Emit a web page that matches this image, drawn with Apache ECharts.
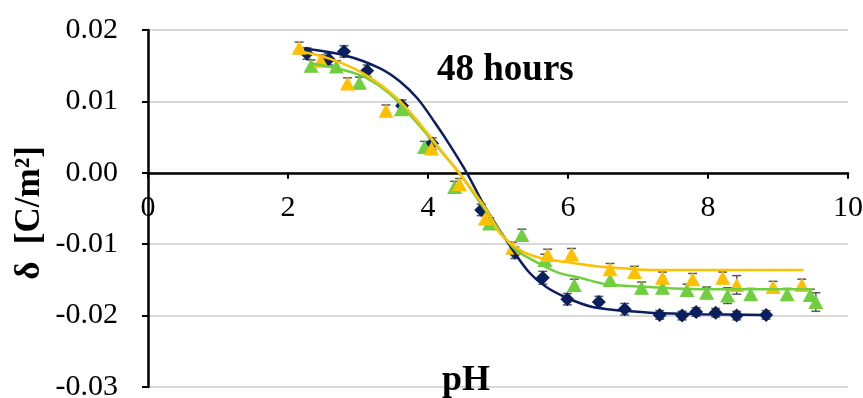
<!DOCTYPE html>
<html>
<head>
<meta charset="utf-8">
<script src="https://cdn.jsdelivr.net/npm/echarts@6/dist/echarts.min.js"></script>
<style>
  html, body { margin: 0; padding: 0; background: #fff; }
  #chart { width: 863px; height: 398px; }
</style>
</head>
<body>
<div id="chart"></div>
<script>
// measured points
var bluePH = [2.27, 2.58, 2.80, 3.13, 3.63, 4.06, 4.76, 5.24, 5.64, 5.99, 6.44, 6.81, 7.31, 7.63, 7.83, 8.11, 8.41, 8.83];
var blueD = [0.0167, 0.0159, 0.0170, 0.0143, 0.0094, 0.0041, -0.0052, -0.0112, -0.0147, -0.0177, -0.0181, -0.0191, -0.0199, -0.0200, -0.0195, -0.0196, -0.0200, -0.0199];
var blueErr = [0.0008, 0.0008, 0.0008, 0.0008, 0.0008, 0.0008, 0.0008, 0.0008, 0.0009, 0.0008, 0.0008, 0.0008, 0.0006, 0.0006, 0.0006, 0.0006, 0.0006, 0.0006];

var greenPH = [2.33, 2.69, 3.02, 3.62, 3.95, 4.38, 4.88, 5.34, 5.67, 6.09, 6.60, 7.05, 7.35, 7.70, 7.98, 8.28, 8.61, 9.13, 9.46, 9.54];
var greenD = [0.0150, 0.0149, 0.0126, 0.0089, 0.0036, -0.0020, -0.0071, -0.0087, -0.0122, -0.0157, -0.0150, -0.0161, -0.0161, -0.0164, -0.0168, -0.0172, -0.0170, -0.0170, -0.0171, -0.0181];
var greenErr = [0.0008, 0.0008, 0.0008, 0.0008, 0.0008, 0.0008, 0.0008, 0.0008, 0.0008, 0.0008, 0.0008, 0.0008, 0.0008, 0.0008, 0.0008, 0.0011, 0.0008, 0.0008, 0.0008, 0.0013];

var yellowPH = [2.16, 2.47, 2.85, 3.40, 4.05, 4.45, 4.82, 5.21, 5.71, 6.05, 6.60, 6.95, 7.35, 7.78, 8.21, 8.41, 8.93, 9.34];
var yellowD = [0.0175, 0.0157, 0.0125, 0.0087, 0.0034, -0.0016, -0.0064, -0.0105, -0.0115, -0.0114, -0.0135, -0.0139, -0.0147, -0.0149, -0.0147, -0.0157, -0.0160, -0.0157];
var yellowErr = [0.0008, 0.0008, 0.0008, 0.0008, 0.0008, 0.0008, 0.0008, 0.0008, 0.0008, 0.0008, 0.0008, 0.0008, 0.0008, 0.0008, 0.0008, 0.0013, 0.0008, 0.0008];

// fitted curves
var blueFitPH = [2.23, 2.83, 3.30, 3.60, 3.85, 4.10, 4.33, 4.56, 4.84, 5.21, 5.45, 5.69, 5.98, 6.35, 6.78, 7.17, 7.88, 8.83];
var blueFit = [0.0174, 0.0164, 0.0147, 0.0128, 0.0104, 0.0070, 0.0036, -0.0001, -0.0052, -0.0108, -0.0140, -0.0160, -0.0175, -0.0188, -0.0193, -0.0196, -0.0198, -0.0199];
var greenFitPH = [2.35, 2.83, 3.12, 3.45, 3.78, 4.12, 4.45, 4.84, 5.21, 5.49, 5.84, 6.17, 6.55, 7.17, 7.88, 9.49];
var greenFit = [0.0153, 0.0143, 0.0133, 0.0111, 0.0077, 0.0038, -0.0001, -0.0055, -0.0104, -0.0122, -0.0139, -0.0147, -0.0156, -0.0160, -0.0163, -0.0163];
var yellowFitPH = [2.13, 2.59, 3.06, 3.55, 3.92, 4.26, 4.45, 4.84, 5.02, 5.31, 5.59, 5.98, 6.41, 6.84, 7.17, 9.36];
var yellowFit = [0.0171, 0.0160, 0.0140, 0.0105, 0.0064, 0.0022, -0.0001, -0.0052, -0.0084, -0.0108, -0.0119, -0.0125, -0.0131, -0.0134, -0.0136, -0.0136];

var NAVY = '#0b1f5e';
var GREEN = '#6fcf3f';
var YELLOW = '#ffc000';
var SERIF = 'Liberation Serif';

// plot box: y runs 0.02 at top=30 to -0.03 at bottom=387
var TOP = 30, BOTTOM_PX = 387, YMAX = 0.02, YMIN = -0.03;
var zeroPx = TOP + (BOTTOM_PX - TOP) * YMAX / (YMAX - YMIN);

function pairs(xs, ys) {
    let out = [];
    for (let i = 0; i < xs.length; i++) out.push([xs[i], ys[i]]);
    return out;
}

function errData(xs, ys, es) {
    let out = [];
    for (let i = 0; i < xs.length; i++) out.push([xs[i], ys[i] - es[i], ys[i] + es[i]]);
    return out;
}

function errSeries(xs, ys, es) {
    return {
        type: 'custom',
        z: 1,
        data: errData(xs, ys, es),
        encode: {x: 0, y: [1, 2]},
        renderItem: function(params, api) {
            let lo = api.coord([api.value(0), api.value(1)]);
            let hi = api.coord([api.value(0), api.value(2)]);
            let w = 4.5;
            let st = {stroke: '#595959', lineWidth: 1.5};
            return {
                type: 'group',
                children: [
                    {type: 'line', shape: {x1: lo[0], y1: lo[1], x2: hi[0], y2: hi[1]}, style: st},
                    {type: 'line', shape: {x1: lo[0] - w, y1: lo[1], x2: lo[0] + w, y2: lo[1]}, style: st},
                    {type: 'line', shape: {x1: hi[0] - w, y1: hi[1], x2: hi[0] + w, y2: hi[1]}, style: st}
                ]
            };
        }
    };
}

function fitSeries(xs, ys, color) {
    return {
        type: 'line',
        z: 4,
        smooth: 0.35,
        showSymbol: false,
        data: pairs(xs, ys),
        lineStyle: {color: color, width: 2.5}
    };
}

echarts.init(document.getElementById('chart')).setOption({
    animation: false,
    title: [{
        text: '48 hours',
        left: 432,
        top: 47,
        textStyle: {fontFamily: SERIF, fontWeight: 'bold', fontSize: 37, color: '#000'}
    }, {
        text: 'pH',
        left: 437,
        top: 358,
        textStyle: {fontFamily: SERIF, fontWeight: 'bold', fontSize: 36, color: '#000'}
    }],
    graphic: [{
        type: 'text',
        x: 30,
        y: 213,
        rotation: Math.PI / 2,
        style: {
            text: 'δ  [C/m²]',
            textAlign: 'center',
            textVerticalAlign: 'middle',
            fill: '#000',
            font: 'bold 35px "Liberation Serif"'
        }
    }],
    grid: [
        {left: 148, right: 15, top: TOP, bottom: 398 - BOTTOM_PX, outerBoundsMode: 'none', containLabel: false},
        // second box only to hang the pH axis on the zero line
        {left: 148, right: 15, top: TOP, height: zeroPx - TOP, outerBoundsMode: 'none', containLabel: false}
    ],
    xAxis: [{
        type: 'value',
        gridIndex: 0,
        min: 0,
        max: 10,
        interval: 2,
        axisLine: {show: false, onZero: false},
        axisTick: {show: false},
        axisLabel: {show: false},
        splitLine: {show: false}
    }, {
        type: 'value',
        gridIndex: 1,
        min: 0,
        max: 10,
        interval: 2,
        position: 'bottom',
        axisLine: {onZero: false, lineStyle: {color: '#000', width: 2.5}},
        axisTick: {show: true, length: 6, lineStyle: {color: '#000', width: 2}},
        axisLabel: {color: '#000', fontFamily: SERIF, fontSize: 30, margin: 20},
        splitLine: {show: false}
    }],
    yAxis: [{
        type: 'value',
        gridIndex: 0,
        min: YMIN,
        max: YMAX,
        interval: 0.01,
        axisLine: {show: true, onZero: false, lineStyle: {color: '#000', width: 2.5}},
        axisTick: {show: true, length: 6, lineStyle: {color: '#000', width: 2}},
        axisLabel: {
            color: '#000', fontFamily: SERIF, fontSize: 30, margin: 30,
            formatter: v => v.toFixed(2)
        },
        splitLine: {lineStyle: {color: '#d9d9d9', width: 2}}
    }, {
        type: 'value',
        gridIndex: 1,
        min: 0,
        max: 1,
        show: false
    }],
    series: [
        errSeries(bluePH, blueD, blueErr),
        errSeries(greenPH, greenD, greenErr),
        errSeries(yellowPH, yellowD, yellowErr),
        {type: 'scatter', z: 3, symbol: 'diamond', symbolSize: 14, itemStyle: {color: NAVY, opacity: 1}, data: pairs(bluePH, blueD)},
        {type: 'scatter', z: 3, symbol: 'triangle', symbolSize: [15, 14], itemStyle: {color: GREEN, opacity: 1}, data: pairs(greenPH, greenD)},
        {type: 'scatter', z: 3, symbol: 'triangle', symbolSize: [15, 14], itemStyle: {color: YELLOW, opacity: 1}, data: pairs(yellowPH, yellowD)},
        fitSeries(blueFitPH, blueFit, NAVY),
        fitSeries(greenFitPH, greenFit, GREEN),
        fitSeries(yellowFitPH, yellowFit, YELLOW)
    ]
});
</script>
</body>
</html>
